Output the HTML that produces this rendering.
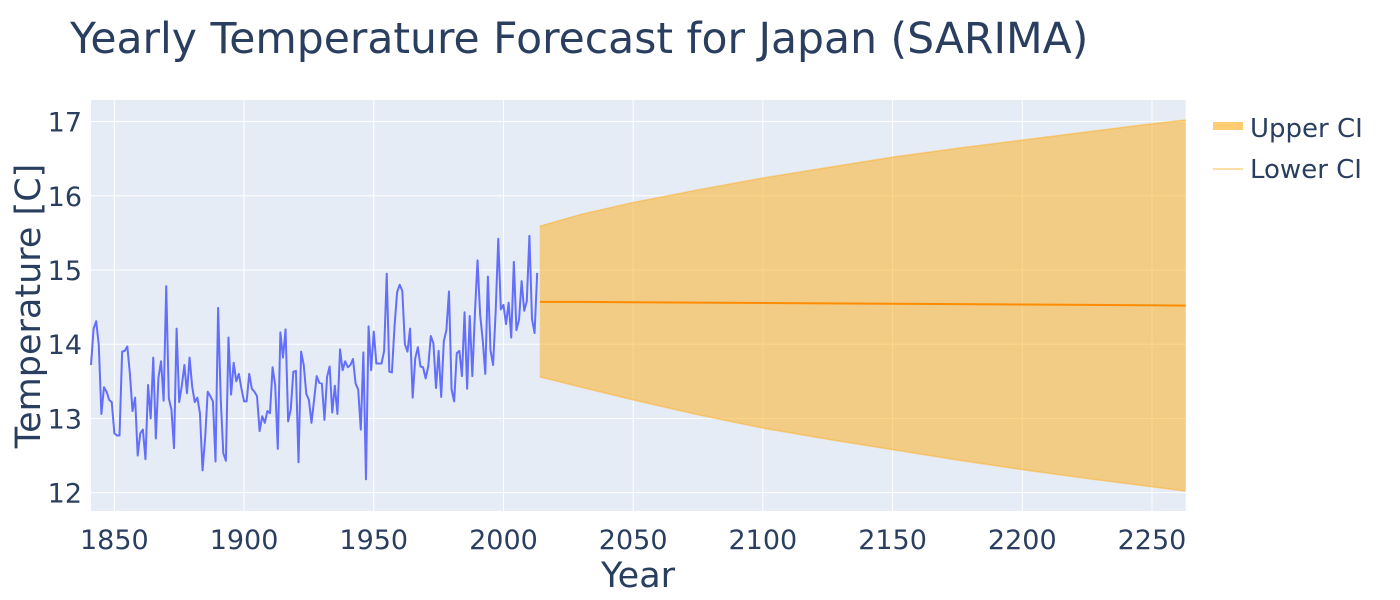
<!DOCTYPE html>
<html><head><meta charset="utf-8"><style>
body{margin:0;background:#fff;}
svg{display:block;font-family:"DejaVu Sans","Liberation Sans",sans-serif;}
</style></head><body>
<svg id="chart" width="1400" height="600"></svg>
<script>
const histStart = 1841;
const histValues = [13.72,14.21,14.31,13.99,13.06,13.42,13.36,13.25,13.22,12.80,12.77,12.77,13.90,13.91,13.97,13.6,13.1,13.28,12.5,12.8,12.85,12.45,13.45,13.0,13.82,12.73,13.55,13.77,13.24,14.78,13.27,13.12,12.6,14.21,13.22,13.44,13.72,13.34,13.82,13.43,13.22,13.28,13.07,12.3,12.74,13.36,13.3,13.23,12.42,14.49,13.27,12.53,12.43,14.09,13.32,13.75,13.5,13.6,13.4,13.23,13.23,13.6,13.4,13.36,13.3,12.83,13.03,12.94,13.1,13.07,13.69,13.45,12.59,14.16,13.82,14.2,12.96,13.12,13.63,13.64,12.41,13.9,13.72,13.33,13.25,12.94,13.25,13.57,13.48,13.47,12.98,13.56,13.7,13.08,13.44,13.06,13.93,13.65,13.77,13.69,13.72,13.8,13.47,13.39,12.85,13.89,12.18,14.24,13.65,14.17,13.74,13.74,13.74,13.91,14.95,13.63,13.62,14.24,14.7,14.8,14.72,14.0,13.9,14.21,13.28,13.81,13.96,13.7,13.69,13.54,13.7,14.11,14.01,13.41,13.91,13.29,14.04,14.19,14.71,13.39,13.23,13.88,13.91,13.57,14.43,13.4,14.38,13.57,14.42,15.13,14.4,14.06,13.6,14.91,13.92,13.72,14.44,15.42,14.47,14.53,14.27,14.56,14.09,15.11,14.19,14.33,14.85,14.45,14.58,15.46,14.34,14.15,14.96];
const fcYears = [2014,2030,2050,2075,2100,2125,2150,2175,2200,2225,2250,2263];
const fcMean  = [14.57,14.57,14.565,14.56,14.555,14.55,14.545,14.54,14.535,14.53,14.525,14.52];
const fcUpper = [15.59,15.75,15.91,16.08,16.24,16.38,16.52,16.64,16.75,16.86,16.97,17.02];
const fcLower = [13.56,13.42,13.25,13.05,12.87,12.72,12.58,12.44,12.31,12.19,12.08,12.02];
const xTicks = [1850,1900,1950,2000,2050,2100,2150,2200,2250];
const yTicks = [12,13,14,15,16,17];

const L=91,R=1185.7,T=100,B=511;
const xMin=1841,xMax=2263,yMin=11.753,yMax=17.29;
const X=v=>L+(v-xMin)/(xMax-xMin)*(R-L);
const Y=v=>B-(v-yMin)/(yMax-yMin)*(B-T);
const NS="http://www.w3.org/2000/svg";
const svg=document.getElementById('chart');
function mk(tag,attrs,parent){const e=document.createElementNS(NS,tag);for(const k in attrs)e.setAttribute(k,attrs[k]);(parent||svg).appendChild(e);return e;}

const bg=mk('rect',{x:L,y:T,width:R-L,height:B-T,fill:'#e5ecf6'});



xTicks.forEach(t=>{
  const g=mk('line',{x1:X(t),x2:X(t),y1:T,y2:B,stroke:'#fff','stroke-width':1});
  
  
  const tx=mk('text',{x:X(t),y:549,'text-anchor':'middle','font-size':27,fill:'#2a3f5f'});
  tx.textContent=t;
  
  
});
yTicks.forEach(t=>{
  const g=mk('line',{x1:L,x2:R,y1:Y(t),y2:Y(t),stroke:'#fff','stroke-width':1});
  
  
  const tx=mk('text',{x:82,y:Y(t)+10,'text-anchor':'end','font-size':27,fill:'#2a3f5f'});
  tx.textContent=t;
  
  
});

let d='M'+fcYears.map((yr,i)=>X(yr)+','+Y(fcUpper[i])).join('L');
for(let i=fcYears.length-1;i>=0;i--) d+='L'+X(fcYears[i])+','+Y(fcLower[i]);
d+='Z';
const band=mk('path',{d:d,fill:'rgba(255,170,20,0.5)',stroke:'none'});


const up=mk('polyline',{points:fcYears.map((yr,i)=>X(yr)+','+Y(fcUpper[i])).join(' '),fill:'none',stroke:'rgba(255,170,20,0.45)','stroke-width':1.5});


const lo=mk('polyline',{points:fcYears.map((yr,i)=>X(yr)+','+Y(fcLower[i])).join(' '),fill:'none',stroke:'rgba(255,170,20,0.45)','stroke-width':1.5});



const hist=mk('polyline',{points:histValues.map((v,i)=>X(histStart+i)+','+Y(v)).join(' '),fill:'none',stroke:'#636efa','stroke-width':2,'stroke-linejoin':'round'});


const mean=mk('polyline',{points:fcYears.map((yr,i)=>X(yr)+','+Y(fcMean[i])).join(' '),fill:'none',stroke:'#ff8c00','stroke-width':2});


</script>
<svg width="1400" height="600" style="position:absolute;left:0;top:0;font-family:'DejaVu Sans','Liberation Sans',sans-serif">
  <text x="70" y="53" font-size="42.5" fill="#2a3f5f">Yearly Temperature Forecast for Japan (SARIMA)</text>
  <text x="638" y="587" font-size="35" fill="#2a3f5f" text-anchor="middle">Year</text>
  <text transform="translate(40,306) rotate(-90)" font-size="35" fill="#2a3f5f" text-anchor="middle">Temperature [C]</text>
  <g>
    <rect x="1213" y="122" width="30" height="8" fill="rgba(255,170,20,0.6)"/>
    <text x="1250" y="137" font-size="26" fill="#2a3f5f">Upper CI</text>
  </g>
  <g>
    <line x1="1213" y1="169" x2="1243" y2="169" stroke="rgba(255,170,20,0.5)" stroke-width="1.5"/>
    <text x="1250" y="178" font-size="26" fill="#2a3f5f">Lower CI</text>
  </g>
</svg>
</body></html>
